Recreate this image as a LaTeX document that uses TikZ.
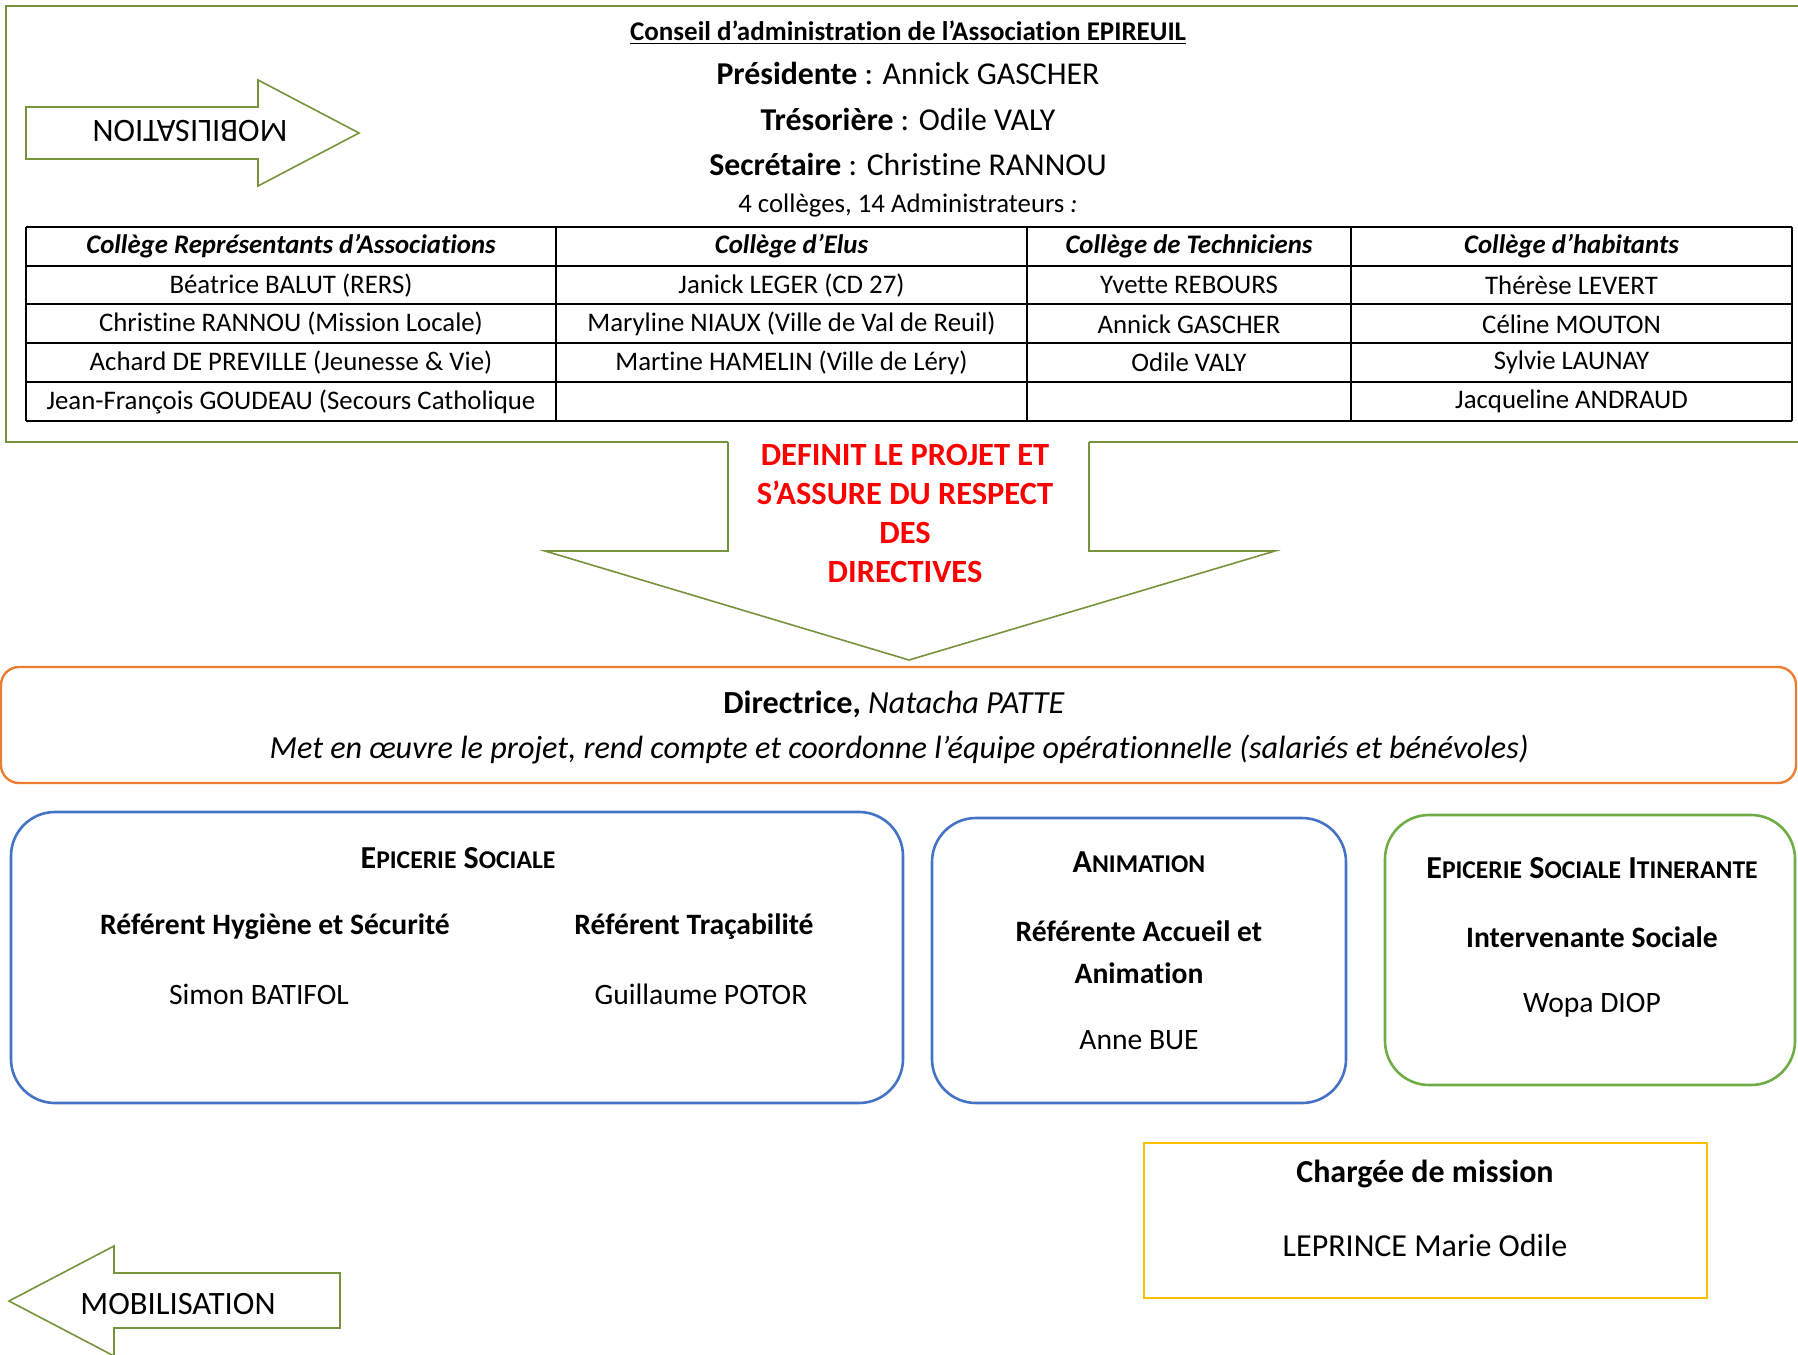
\documentclass[tikz,border=0pt]{standalone}
\usepackage{fontspec}
\setmainfont{Carlito}[Ligatures=CommonOff]
\usetikzlibrary{positioning}

\definecolor{olive}{HTML}{77933C}
\definecolor{leaf}{HTML}{70AD47}
\definecolor{accblue}{HTML}{4472C4}
\definecolor{accorange}{HTML}{ED7D31}
\definecolor{accgold}{HTML}{FFC000}
\definecolor{alertred}{HTML}{FF0000}

\newcommand{\fsz}[1]{\fontsize{#1}{1.2\dimexpr#1\relax}\selectfont}
\newcommand{\fakesc}[2]{#1{\fontsize{12.8pt}{15pt}\selectfont#2}}

\tikzset{
  cell/.style={font=\fsz{13.4pt}, inner sep=0pt},
  headcell/.style={font=\fsz{13.4pt}\bfseries\itshape, inner sep=0pt},
  tblline/.style={black, line width=1pt},
  arrowline/.style={olive, line width=0.8pt, fill=white},
  boxhead/.style={font=\fsz{16pt}\bfseries, inner sep=0pt},
  boxrole/.style={font=\fsz{14.8pt}\bfseries, inner sep=0pt, align=center},
  boxname/.style={font=\fsz{14.8pt}, inner sep=0pt},
}

\begin{document}
\begin{tikzpicture}[x=0.5pt, y=-0.5pt]
\useasboundingbox (0,0) rectangle (1798,1354);
\clip (0,0) rectangle (1798,1354);

% conseil d'administration
\draw[olive, line width=1.2pt] (728,442) -- (6,442) -- (6,6) -- (1810,6);
\draw[olive, line width=1.2pt] (1089,442) -- (1810,442);
\draw[arrowline] (728,442) -- (728,551) -- (545,551) -- (909,660) -- (1275,551) -- (1089,551) -- (1089,442);

\node[font=\fsz{13.5pt}\bfseries, inner sep=0pt] (titre) at (908,33) {\underline{Conseil d’administration de l’Association EPIREUIL}};
\node[font=\fsz{15.9pt}, inner sep=0pt] (pres) at (908,73) {\textbf{Présidente} : Annick GASCHER};
\node[font=\fsz{15.9pt}, inner sep=0pt] (tres) at (908,119) {\textbf{Trésorière} : Odile VALY};
\node[font=\fsz{15.9pt}, inner sep=0pt] (secr) at (908,164) {\textbf{Secrétaire} : Christine RANNOU};
\node[font=\fsz{13.4pt}, inner sep=0pt] (colleges) at (908,205) {4 collèges, 14 Administrateurs \textit{:}};

% mobilisation (haut)
\draw[arrowline] (26,107) -- (258,107) -- (258,80) -- (359,133) -- (258,186) -- (258,159) -- (26,159) -- cycle;
\node[font=\fsz{16.3pt}, inner sep=0pt, rotate=180] (mobhaut) at (190,131) {MOBILISATION};

% tableau des colleges
\foreach \y in {227,266,304,343,382,421}
  \draw[tblline] (26,\y) -- (1792,\y);
\foreach \x in {26,556,1027,1351,1792}
  \draw[tblline] (\x,227) -- (\x,421);

\node[headcell] (hd-assoc) at (291,246.5) {Collège Représentants d’Associations};
\node[headcell] (hd-elus) at (791.5,246.5) {Collège d’Elus};
\node[headcell] (hd-tech) at (1189,246.5) {Collège de Techniciens};
\node[headcell] (hd-hab) at (1571.5,246.5) {Collège d’habitants};

\foreach \txt [count=\r] in {Béatrice BALUT (RERS), Christine RANNOU (Mission Locale), Achard DE PREVILLE (Jeunesse \& Vie), Jean-François GOUDEAU (Secours Catholique}
  \node[cell] (assoc-\r) at (291,{246.5+38.75*\r}) {\txt};
\foreach \txt [count=\r] in {Janick LEGER (CD 27), Maryline NIAUX (Ville de Val de Reuil), Martine HAMELIN (Ville de Léry)}
  \node[cell] (elus-\r) at (791.5,{246.5+38.75*\r}) {\txt};
\foreach \txt [count=\r] in {Yvette REBOURS, Annick GASCHER, Odile VALY}
  \node[cell] (tech-\r) at (1189,{246.5+38.75*\r}) {\txt};
\foreach \txt [count=\r] in {Thérèse LEVERT, Céline MOUTON, Sylvie LAUNAY, Jacqueline ANDRAUD}
  \node[cell] (hab-\r) at (1571.5,{246.5+38.75*\r}) {\txt};

% fleche vers la direction
\node[font=\fontsize{16.2pt}{19.5pt}\selectfont\bfseries, text=alertred, align=center, inner sep=0pt] (definit) at (905,513.5)
  {DEFINIT LE PROJET ET\\S’ASSURE DU RESPECT\\DES\\DIRECTIVES};

% directrice
\draw[accorange, line width=1.2pt, rounded corners=9pt] (1,667) rectangle (1796,783);
\node[font=\fsz{16.1pt}, inner sep=0pt] (directrice) at (894,704) {\textbf{Directrice,} \textit{Natacha PATTE}};
\node[font=\fsz{16.1pt}\itshape, inner sep=0pt] (mission) at (899,749) {Met en œuvre le projet, rend compte et coordonne l’équipe opérationnelle (salariés et bénévoles)};

% epicerie sociale
\draw[accblue, line width=1.3pt, rounded corners=22pt] (11,812) rectangle (903,1103);
\node[boxhead] (epicerie) at (458,858) {\fakesc{E}{PICERIE} \fakesc{S}{OCIALE}};
\node[boxrole] (hygiene) at (275,927) {Référent Hygiène et Sécurité};
\node[boxrole] (traca) at (694,927) {Référent Traçabilité};
\node[boxname] (batifol) at (259,994) {Simon BATIFOL};
\node[boxname] (potor) at (701,994) {Guillaume POTOR};

% animation
\draw[accblue, line width=1.3pt, rounded corners=22pt] (932,818) rectangle (1346,1103);
\node[boxhead] (animation) at (1139,862) {\fakesc{A}{NIMATION}};
\node[boxrole] (accueil) at (1139,952.5) {Référente Accueil et\\[3.2pt]Animation};
\node[boxname] (bue) at (1139,1040) {Anne BUE};

% epicerie sociale itinerante
\draw[leaf, line width=1.3pt, rounded corners=22pt] (1385,815) rectangle (1795,1085);
\node[boxhead] (itinerante) at (1592,868) {\fakesc{E}{PICERIE} \fakesc{S}{OCIALE} \fakesc{I}{TINERANTE}};
\node[boxrole] (intervenante) at (1592,937) {Intervenante Sociale};
\node[boxname] (diop) at (1592,1005) {Wopa DIOP};

% chargee de mission
\draw[accgold, line width=1.3pt] (1144,1143) rectangle (1707,1298);
\node[boxrole, font=\fsz{16pt}\bfseries] (chargee) at (1425,1174) {Chargée de mission};
\node[boxname, font=\fsz{16pt}] (leprince) at (1425,1245) {LEPRINCE Marie Odile};

% mobilisation (bas)
\draw[arrowline] (9,1301) -- (114,1246) -- (114,1273) -- (340,1273) -- (340,1328) -- (114,1328) -- (114,1356) -- cycle;
\node[font=\fsz{16.3pt}, inner sep=0pt] (mobbas) at (178,1304) {MOBILISATION};
\end{tikzpicture}
\end{document}
